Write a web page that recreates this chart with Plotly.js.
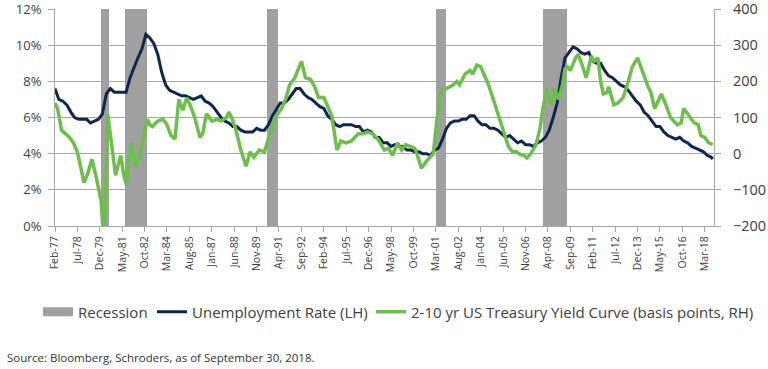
<!DOCTYPE html>
<html>
<head>
<meta charset="utf-8">
<script src="https://cdn.plot.ly/plotly-3.0.1.min.js"></script>
<style>html,body{margin:0;padding:0;background:#fff;}#chart{width:768px;height:369px;}</style>
</head>
<body>
<div id="chart"></div>
<script>
// ---- Data ----
const recStart = ['1980-01-01','1981-07-01','1990-07-01','2001-03-01','2007-12-01'];
const recEnd   = ['1980-07-01','1982-11-15','1991-03-01','2001-11-01','2009-06-15'];

const unempDates = [
'1977-02','1977-05','1977-08','1977-11','1978-02','1978-05','1978-08','1978-11','1979-02','1979-05','1979-08','1979-11',
'1980-02','1980-05','1980-08','1980-11','1981-02','1981-05','1981-08','1981-11','1982-02','1982-05','1982-08','1982-11',
'1983-02','1983-05','1983-08','1983-11','1984-02','1984-05','1984-08','1984-11','1985-02','1985-05','1985-08','1985-11',
'1986-02','1986-05','1986-08','1986-11','1987-02','1987-05','1987-08','1987-11','1988-02','1988-05','1988-08','1988-11',
'1989-02','1989-05','1989-08','1989-11','1990-02','1990-05','1990-08','1990-11','1991-02','1991-05','1991-08','1991-11',
'1992-02','1992-05','1992-08','1992-11','1993-02','1993-05','1993-08','1993-11','1994-02','1994-05','1994-08','1994-11',
'1995-02','1995-05','1995-08','1995-11','1996-02','1996-05','1996-08','1996-11','1997-02','1997-05','1997-08','1997-11',
'1998-02','1998-05','1998-08','1998-11','1999-02','1999-05','1999-08','1999-11','2000-02','2000-05','2000-08','2000-11',
'2001-02','2001-05','2001-08','2001-11','2002-02','2002-05','2002-08','2002-11','2003-02','2003-05','2003-08','2003-11',
'2004-02','2004-05','2004-08','2004-11','2005-02','2005-05','2005-08','2005-11','2006-02','2006-05','2006-08','2006-11',
'2007-02','2007-05','2007-08','2007-11','2008-02','2008-05','2008-08','2008-11','2009-02','2009-05','2009-08','2009-11',
'2010-02','2010-05','2010-08','2010-11','2011-02','2011-05','2011-08','2011-11','2012-02','2012-05','2012-08','2012-11',
'2013-02','2013-05','2013-08','2013-11','2014-02','2014-05','2014-08','2014-11','2015-02','2015-05','2015-08','2015-11',
'2016-02','2016-05','2016-08','2016-11','2017-02','2017-05','2017-08','2017-11','2018-02','2018-05','2018-08','2018-09'];
const unempRate = [
7.6,7.0,6.9,6.7,6.3,6.0,5.9,5.9,5.9,5.7,5.8,5.9,
6.2,7.3,7.6,7.4,7.4,7.4,7.4,8.2,8.8,9.3,9.8,10.6,
10.4,10.1,9.5,8.5,7.8,7.5,7.4,7.3,7.2,7.2,7.1,7.0,
7.1,7.2,6.9,6.8,6.6,6.3,6.0,5.8,5.7,5.5,5.5,5.3,
5.2,5.2,5.2,5.4,5.3,5.3,5.6,6.1,6.5,6.8,6.8,7.0,
7.3,7.6,7.6,7.3,7.1,7.0,6.8,6.6,6.5,6.1,5.9,5.6,
5.5,5.6,5.6,5.6,5.5,5.5,5.2,5.3,5.2,4.9,4.9,4.6,
4.6,4.4,4.5,4.4,4.4,4.2,4.2,4.1,4.1,4.0,4.0,3.9,
4.2,4.3,4.8,5.4,5.7,5.8,5.8,5.9,5.9,6.1,6.1,5.8,
5.6,5.6,5.4,5.4,5.3,5.1,4.9,5.0,4.8,4.6,4.7,4.5,
4.5,4.4,4.6,4.7,4.9,5.3,6.0,6.8,8.2,9.3,9.6,9.9,
9.8,9.6,9.5,9.6,9.1,9.0,9.0,8.6,8.3,8.2,8.0,7.8,
7.7,7.5,7.2,6.9,6.7,6.3,6.1,5.8,5.5,5.5,5.2,5.0,
4.9,4.8,4.9,4.7,4.6,4.4,4.3,4.2,4.1,3.9,3.8,3.7];

const curveDates = [
'1977-02','1977-04','1977-07','1977-10','1978-01','1978-04','1978-07','1978-10','1978-12','1979-03','1979-06','1979-09','1979-11',
'1980-01','1980-03','1980-04','1980-06','1980-09','1980-12','1981-02','1981-04','1981-06','1981-08','1981-10','1981-12',
'1982-03','1982-06','1982-09','1982-12','1983-02','1983-04','1983-08','1983-12','1984-03','1984-06','1984-09','1984-12',
'1985-03','1985-06','1985-09','1985-12','1986-04','1986-06','1986-09','1987-01','1987-05','1987-08','1987-12',
'1988-02','1988-04','1988-07','1988-11','1989-03','1989-06','1989-09','1990-01','1990-05','1990-09',
'1991-01','1991-06','1991-09','1991-12','1992-04','1992-09','1992-12','1993-04','1993-07','1993-10',
'1994-02','1994-05','1994-08','1994-12','1995-03','1995-07','1995-11','1996-04','1996-08','1996-11',
'1997-03','1997-07','1997-12','1998-03','1998-06','1998-10','1999-01','1999-04','1999-08','1999-11',
'2000-01','2000-04','2000-08','2001-01','2001-04','2001-07','2001-11','2002-02','2002-04','2002-07','2002-09',
'2003-01','2003-05','2003-07','2003-10','2004-01','2004-03','2004-07','2004-11','2005-03','2005-07','2005-10',
'2006-01','2006-04','2006-07','2006-10','2006-12','2007-03','2007-07','2007-10','2007-12',
'2008-01','2008-03','2008-05','2008-07','2008-09','2008-12','2009-03','2009-05','2009-07','2009-09',
'2010-01','2010-03','2010-06','2010-09','2011-01','2011-03','2011-06','2011-08','2011-10',
'2012-01','2012-02','2012-06','2012-09','2013-01','2013-05','2013-08','2013-12',
'2014-03','2014-05','2014-08','2014-10','2015-01','2015-03','2015-06','2015-09',
'2016-01','2016-06','2016-09','2016-11','2017-02','2017-07','2017-10','2017-12',
'2018-03','2018-06','2018-09'];
const curveBps = [
140,125,65,55,45,30,5,-45,-80,-55,-15,-60,-90,
-130,-240,-150,110,20,-60,-30,-5,-55,-85,-20,30,
-35,-10,40,95,80,75,90,95,80,50,40,150,
120,155,130,100,45,55,110,90,95,90,100,
115,100,70,10,-35,5,-10,10,5,55,
100,125,150,190,210,255,210,205,185,155,
155,130,105,10,35,30,35,55,55,60,
55,40,10,15,-5,30,10,25,20,15,
-5,-40,-20,0,100,175,180,185,190,200,190,
220,230,220,245,240,225,190,145,100,50,20,
5,5,-2,-5,-12,0,25,70,120,
145,180,150,135,180,150,190,235,240,230,
265,275,245,210,270,255,265,200,165,
170,185,135,140,155,200,240,265,
235,210,185,170,125,140,165,140,
100,80,85,125,110,85,80,50,
45,30,25];

const tickLabels = ['Feb-77','Jul-78','Dec-79','May-81','Oct-82','Mar-84','Aug-85','Jan-87','Jun-88','Nov-89',
'Apr-91','Sep-92','Feb-94','Jul-95','Dec-96','May-98','Oct-99','Mar-01','Aug-02','Jan-04','Jun-05','Nov-06',
'Apr-08','Sep-09','Feb-11','Jul-12','Dec-13','May-15','Oct-16','Mar-18'];

const leftMax = 12;

// ---- Derived ----
const months = {Jan:'01',Feb:'02',Mar:'03',Apr:'04',May:'05',Jun:'06',Jul:'07',Aug:'08',Sep:'09',Oct:'10',Nov:'11',Dec:'12'};
const tickVals = tickLabels.map(l => {
  const [m, y] = l.split('-');
  const yy = parseInt(y, 10);
  return (yy > 50 ? 1900 + yy : 2000 + yy) + '-' + months[m] + '-01';
});
const recMid = recStart.map((s, i) => {
  const a = new Date(s).getTime(), b = new Date(recEnd[i]).getTime();
  return new Date((a + b) / 2).toISOString().slice(0, 10);
});
const recWidth = recStart.map((s, i) => new Date(recEnd[i]).getTime() - new Date(s).getTime());

const fontFam = '"Open Sans", "Liberation Sans", Arial, sans-serif';
const axisGrey = '#a6a6a6';
const txt = '#404040';
const recColor = '#a0a0a0';

const traces = [
  {type: 'bar', name: 'Recession', x: recMid, y: recStart.map(() => leftMax), width: recWidth,
   marker: {color: recColor, line: {width: 0}}, yaxis: 'y', hoverinfo: 'skip', showlegend: false},
  // legend proxy for recession (wide grey swatch)
  {type: 'scatter', mode: 'lines', name: 'Recession', x: [null], y: [null],
   line: {color: recColor, width: 9}, yaxis: 'y', legend: 'legend'},
  {type: 'scatter', mode: 'lines', name: 'Unemployment Rate (LH)', x: unempDates, y: unempRate,
   line: {color: '#0f2650', width: 3}, yaxis: 'y', legend: 'legend2'},
  {type: 'scatter', mode: 'lines', name: '2-10 yr US Treasury Yield Curve (basis points, RH)', x: curveDates, y: curveBps,
   line: {color: '#6cc04a', width: 3.5}, yaxis: 'y2', legend: 'legend3'}
];

function leg(px) {
  return {
    xref: 'container', yref: 'container', x: px / 768, xanchor: 'left', y: 1 - 312 / 369, yanchor: 'middle',
    orientation: 'h', font: {size: 15, color: txt, family: fontFam}, bgcolor: 'rgba(0,0,0,0)', itemwidth: 30
  };
}

const layout = {
  width: 768, height: 369,
  margin: {l: 55, r: 54, t: 9, b: 143, pad: 0},
  paper_bgcolor: '#fff', plot_bgcolor: '#fff',
  font: {family: fontFam, color: txt},
  showlegend: true,
  bargap: 0,
  xaxis: {
    type: 'date', range: ['1977-02-01', '2018-10-01'],
    tickmode: 'array', tickvals: tickVals, ticktext: tickLabels, tickangle: -90,
    tickfont: {size: 10.5, color: txt, family: fontFam},
    ticks: 'outside', ticklen: 5, tickcolor: axisGrey,
    showline: true, linecolor: axisGrey, linewidth: 1, showgrid: false, zeroline: false,
    ticklabeloverflow: 'allow'
  },
  yaxis: {
    range: [0, leftMax], dtick: 2, tick0: 0, ticksuffix: '%',
    tickfont: {size: 13, color: txt, family: fontFam},
    ticks: 'outside', ticklen: 6, tickcolor: axisGrey,
    showline: true, linecolor: axisGrey, linewidth: 1,
    showgrid: true, gridcolor: axisGrey, gridwidth: 1, zeroline: false,
    ticklabelstandoff: 4, ticklabeloverflow: 'allow'
  },
  yaxis2: {
    range: [-200, 400], dtick: 100, tick0: 0, overlaying: 'y', side: 'right',
    tickfont: {size: 14.5, color: txt, family: fontFam},
    ticks: 'outside', ticklen: 6, tickcolor: axisGrey,
    showline: true, linecolor: axisGrey, linewidth: 1,
    showgrid: false, zeroline: false,
    ticklabelstandoff: 9, ticklabeloverflow: 'allow'
  },
  legend: leg(38),
  legend2: leg(152),
  legend3: leg(371),
  annotations: [{
    xref: 'paper', yref: 'paper', x: -0.076, y: -0.608, xanchor: 'left', yanchor: 'middle',
    text: 'Source: Bloomberg, Schroders, as of September 30, 2018.', showarrow: false,
    font: {size: 11.5, color: '#333', family: fontFam}
  }]
};

Plotly.newPlot('chart', traces, layout, {staticPlot: true, displayModeBar: false});
</script>
</body>
</html>
